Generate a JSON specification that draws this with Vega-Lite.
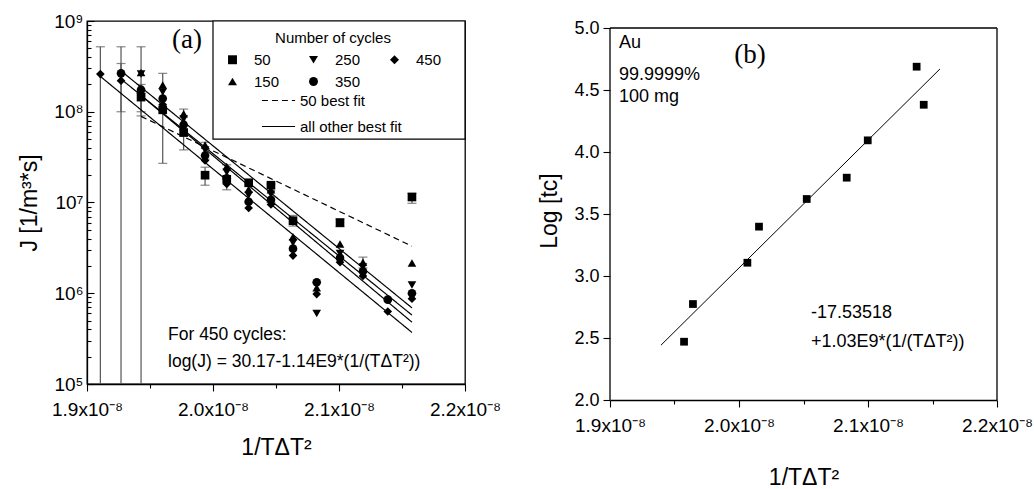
{
  "$schema": "https://vega.github.io/schema/vega-lite/v6.json",
  "background": "white",
  "padding": {"left": 18, "top": 11, "right": 0, "bottom": 0},
  "spacing": 36,
  "config": {
    "font": "Liberation Sans",
    "view": {"stroke": "black", "strokeWidth": 1.3},
    "axis": {
      "grid": false, "domainColor": "black", "domainWidth": 1.3, "tickColor": "black", "tickWidth": 1.1,
      "labelColor": "black", "titleColor": "black", "labelFont": "Liberation Sans", "titleFont": "Liberation Sans",
      "labelFontSize": 19, "titleFontSize": 23, "titleFontWeight": "normal", "labelFlush": false, "labelOverlap": false
    }
  },
  "datasets": {
    "pa": [
      {"x": 1.9106e-8, "J": 2.6e8, "n": "450"},
      {"x": 1.9270e-8, "J": 2.65e8, "n": "350"}, {"x": 1.9270e-8, "J": 2.2e8, "n": "450"},
      {"x": 1.9429e-8, "J": 2.7e8, "n": "150"}, {"x": 1.9429e-8, "J": 2.6e8, "n": "250"}, {"x": 1.9429e-8, "J": 1.75e8, "n": "350"}, {"x": 1.9429e-8, "J": 1.5e8, "n": "450"}, {"x": 1.9429e-8, "J": 1.45e8, "n": "50"},
      {"x": 1.9601e-8, "J": 1.97e8, "n": "150"}, {"x": 1.9601e-8, "J": 1.65e8, "n": "250"}, {"x": 1.9601e-8, "J": 1.4e8, "n": "350"}, {"x": 1.9601e-8, "J": 1.2e8, "n": "450"}, {"x": 1.9601e-8, "J": 1.05e8, "n": "50"},
      {"x": 1.9767e-8, "J": 9.5e7, "n": "150"}, {"x": 1.9767e-8, "J": 8.3e7, "n": "250"}, {"x": 1.9767e-8, "J": 7.2e7, "n": "350"}, {"x": 1.9767e-8, "J": 6.3e7, "n": "450"}, {"x": 1.9767e-8, "J": 5.9e7, "n": "50"},
      {"x": 1.9937e-8, "J": 4.3e7, "n": "150"}, {"x": 1.9937e-8, "J": 3.8e7, "n": "250"}, {"x": 1.9937e-8, "J": 3.3e7, "n": "350"}, {"x": 1.9937e-8, "J": 2.9e7, "n": "450"}, {"x": 1.9937e-8, "J": 2.0e7, "n": "50"},
      {"x": 2.0109e-8, "J": 2.5e7, "n": "150"}, {"x": 2.0109e-8, "J": 2.15e7, "n": "250"}, {"x": 2.0109e-8, "J": 1.85e7, "n": "350"}, {"x": 2.0109e-8, "J": 1.6e7, "n": "450"}, {"x": 2.0109e-8, "J": 1.8e7, "n": "50"},
      {"x": 2.0283e-8, "J": 1.65e7, "n": "50"}, {"x": 2.0283e-8, "J": 1.4e7, "n": "150"}, {"x": 2.0283e-8, "J": 1.2e7, "n": "250"}, {"x": 2.0283e-8, "J": 1.02e7, "n": "350"}, {"x": 2.0283e-8, "J": 8.7e6, "n": "450"},
      {"x": 2.0460e-8, "J": 1.55e7, "n": "50"}, {"x": 2.0460e-8, "J": 1.38e7, "n": "150"}, {"x": 2.0460e-8, "J": 1.23e7, "n": "250"}, {"x": 2.0460e-8, "J": 1.07e7, "n": "350"}, {"x": 2.0460e-8, "J": 9.5e6, "n": "450"},
      {"x": 2.0635e-8, "J": 6.3e6, "n": "50"}, {"x": 2.0635e-8, "J": 4.2e6, "n": "150"}, {"x": 2.0635e-8, "J": 3.6e6, "n": "250"}, {"x": 2.0635e-8, "J": 3.1e6, "n": "350"}, {"x": 2.0635e-8, "J": 2.6e6, "n": "450"},
      {"x": 2.0823e-8, "J": 1.32e6, "n": "350"}, {"x": 2.0823e-8, "J": 1.15e6, "n": "150"}, {"x": 2.0823e-8, "J": 9.8e5, "n": "450"}, {"x": 2.0823e-8, "J": 6.0e5, "n": "250"},
      {"x": 2.1008e-8, "J": 6.0e6, "n": "50"}, {"x": 2.1008e-8, "J": 3.5e6, "n": "150"}, {"x": 2.1008e-8, "J": 2.75e6, "n": "250"}, {"x": 2.1008e-8, "J": 2.45e6, "n": "350"}, {"x": 2.1008e-8, "J": 2.2e6, "n": "450"},
      {"x": 2.1190e-8, "J": 2.2e6, "n": "150"}, {"x": 2.1190e-8, "J": 1.95e6, "n": "250"}, {"x": 2.1190e-8, "J": 1.75e6, "n": "350"}, {"x": 2.1190e-8, "J": 1.55e6, "n": "450"},
      {"x": 2.1387e-8, "J": 8.5e5, "n": "350"}, {"x": 2.1387e-8, "J": 6.3e5, "n": "450"},
      {"x": 2.1579e-8, "J": 1.15e7, "n": "50"}, {"x": 2.1579e-8, "J": 2.15e6, "n": "150"}, {"x": 2.1579e-8, "J": 1.23e6, "n": "250"}, {"x": 2.1579e-8, "J": 1.0e6, "n": "350"}, {"x": 2.1579e-8, "J": 8.7e5, "n": "450"}
    ],
    "ea": [
      {"x": 1.9106e-8, "lo": 1e5, "hi": 5.2e8},
      {"x": 1.9270e-8, "lo": 1e5, "hi": 5.2e8},
      {"x": 1.9270e-8, "lo": 1.0e8, "hi": 3.4e8},
      {"x": 1.9429e-8, "lo": 1e5, "hi": 5.2e8},
      {"x": 1.9429e-8, "lo": 1.0e8, "hi": 2.0e8},
      {"x": 1.9429e-8, "lo": 9.0e7, "hi": 1.6e8},
      {"x": 1.9601e-8, "lo": 2.7e7, "hi": 2.65e8},
      {"x": 1.9767e-8, "lo": 3.8e7, "hi": 1.07e8},
      {"x": 1.9937e-8, "lo": 3.0e7, "hi": 4.6e7},
      {"x": 1.9937e-8, "lo": 1.55e7, "hi": 2.45e7},
      {"x": 2.0109e-8, "lo": 1.38e7, "hi": 2.6e7},
      {"x": 2.0460e-8, "lo": 1.0e7, "hi": 1.6e7},
      {"x": 2.0635e-8, "lo": 5.5e6, "hi": 7.2e6},
      {"x": 2.1008e-8, "lo": 5.4e6, "hi": 6.6e6},
      {"x": 2.1190e-8, "lo": 1.9e6, "hi": 2.5e6},
      {"x": 2.1579e-8, "lo": 9.8e6, "hi": 1.26e7}
    ],
    "fa": [
      {"x": 1.9429e-8, "J": 8.9e7, "id": "f50", "fit": "50 best fit"},
      {"x": 2.1579e-8, "J": 3.3e6, "id": "f50", "fit": "50 best fit"},
      {"x": 1.9270e-8, "J": 2.82e8, "id": "f150", "fit": "all other best fit"},
      {"x": 2.1579e-8, "J": 6.9e5, "id": "f150", "fit": "all other best fit"},
      {"x": 1.9270e-8, "J": 2.29e8, "id": "f250", "fit": "all other best fit"},
      {"x": 2.1579e-8, "J": 5.75e5, "id": "f250", "fit": "all other best fit"},
      {"x": 1.9429e-8, "J": 1.51e8, "id": "f350", "fit": "all other best fit"},
      {"x": 2.1579e-8, "J": 4.8e5, "id": "f350", "fit": "all other best fit"},
      {"x": 1.9106e-8, "J": 2.45e8, "id": "f450", "fit": "all other best fit"},
      {"x": 2.1579e-8, "J": 3.7e5, "id": "f450", "fit": "all other best fit"}
    ],
    "pb": [
      {"x": 1.9574e-8, "t": 2.47}, {"x": 1.9643e-8, "t": 2.774}, {"x": 2.0065e-8, "t": 3.107},
      {"x": 2.0155e-8, "t": 3.398}, {"x": 2.0525e-8, "t": 3.621}, {"x": 2.0835e-8, "t": 3.793},
      {"x": 2.0998e-8, "t": 4.094}, {"x": 2.1377e-8, "t": 4.688}, {"x": 2.1432e-8, "t": 4.381}
    ],
    "fb": [
      {"x": 1.9395e-8, "t": 2.442}, {"x": 2.1558e-8, "t": 4.670}
    ],
    "one": [{}]
  },
  "hconcat": [
    {
      "width": 378,
      "height": 363,
      "layer": [
        {
          "data": {"name": "ea"},
          "mark": {"type": "rule", "color": "#555", "strokeWidth": 1.2},
          "encoding": {
            "x": {"field": "x", "type": "quantitative", "scale": {"domain": [1.9e-8, 2.2e-8], "nice": false, "zero": false},
              "axis": {"values": [1.9e-8, 1.95e-8, 2.0e-8, 2.05e-8, 2.1e-8, 2.15e-8, 2.2e-8],
                "labelExpr": "abs(datum.value*1e9 - round(datum.value*1e9)) < 0.01 ? format(datum.value*1e8, '.1f') + 'x10⁻⁸' : ''",
                "tickSize": {"condition": {"test": "abs(datum.value*1e9 - round(datum.value*1e9)) < 0.01", "value": 7}, "value": 4},
                "labelPadding": 9, "title": "1/TΔT²", "titlePadding": 17}},
            "y": {"field": "lo", "type": "quantitative", "scale": {"type": "log", "domain": [1e5, 1e9], "nice": false},
              "axis": {"values": [1e5, 2e5, 3e5, 4e5, 5e5, 6e5, 7e5, 8e5, 9e5, 1e6, 2e6, 3e6, 4e6, 5e6, 6e6, 7e6, 8e6, 9e6, 1e7, 2e7, 3e7, 4e7, 5e7, 6e7, 7e7, 8e7, 9e7, 1e8, 2e8, 3e8, 4e8, 5e8, 6e8, 7e8, 8e8, 9e8, 1e9],
                "labelExpr": "datum.value == 1e5 ? '10⁵' : datum.value == 1e6 ? '10⁶' : datum.value == 1e7 ? '10⁷' : datum.value == 1e8 ? '10⁸' : datum.value == 1e9 ? '10⁹' : ''",
                "tickSize": {"condition": {"test": "indexof([100000, 1000000, 10000000, 100000000, 1000000000], datum.value) >= 0", "value": -7}, "value": -4},
                "labelPadding": 11, "title": "J [1/m³*s]", "titlePadding": 12}},
            "y2": {"field": "hi"}
          }
        },
        {
          "data": {"name": "ea"},
          "mark": {"type": "tick", "color": "#555", "orient": "horizontal", "size": 9, "thickness": 1.2},
          "encoding": {
            "x": {"field": "x", "type": "quantitative"},
            "y": {"field": "hi", "type": "quantitative"}
          }
        },
        {
          "data": {"name": "ea"},
          "transform": [{"filter": "datum.lo > 100000"}],
          "mark": {"type": "tick", "color": "#555", "orient": "horizontal", "size": 9, "thickness": 1.2},
          "encoding": {
            "x": {"field": "x", "type": "quantitative"},
            "y": {"field": "lo", "type": "quantitative"}
          }
        },
        {
          "data": {"name": "one"},
          "mark": {"type": "rect", "fill": "white", "stroke": "black", "strokeWidth": 1.2},
          "encoding": {
            "x": {"datum": 2.0e-8, "type": "quantitative"},
            "x2": {"datum": 2.2e-8},
            "y": {"datum": 5e7, "type": "quantitative"},
            "y2": {"datum": 1e9}
          }
        },
        {
          "data": {"name": "fa"},
          "mark": {"type": "line", "color": "black", "strokeWidth": 1.2},
          "encoding": {
            "x": {"field": "x", "type": "quantitative"},
            "y": {"field": "J", "type": "quantitative"},
            "detail": {"field": "id"},
            "strokeDash": {"field": "fit", "type": "nominal",
              "scale": {"domain": ["50 best fit", "all other best fit"], "range": [[6, 4], [1, 0]]},
              "legend": {"title": null, "orient": "none", "legendX": 174, "legendY": 62, "symbolType": "stroke", "symbolSize": 1100,
                "symbolStrokeColor": "black", "symbolStrokeWidth": 1.2, "labelFontSize": 15, "labelColor": "black", "rowPadding": 0, "labelOffset": 4, "padding": 0}}
          }
        },
        {
          "data": {"name": "pa"},
          "mark": {"type": "point", "filled": true, "color": "black", "opacity": 1, "size": 75},
          "encoding": {
            "x": {"field": "x", "type": "quantitative"},
            "y": {"field": "J", "type": "quantitative"},
            "shape": {"field": "n", "type": "nominal",
              "scale": {"domain": ["50", "150", "250", "350", "450"], "range": ["square", "triangle-up", "triangle-down", "circle", "diamond"]},
              "legend": {"title": "Number of cycles", "orient": "none", "legendX": 138, "legendY": 10, "columns": 3, "gridAlign": "all",
                "titleAnchor": "middle", "titleFontSize": 15, "titleFontWeight": "normal", "titleColor": "black", "titlePadding": 6,
                "labelFontSize": 15, "labelColor": "black", "labelOffset": 14, "symbolSize": 80, "symbolFillColor": "black", "symbolStrokeWidth": 0,
                "columnPadding": 26, "rowPadding": 6, "padding": 0}}
          }
        },
        {
          "data": {"name": "one"},
          "mark": {"type": "text", "font": "Liberation Serif", "fontSize": 27, "align": "center", "baseline": "middle", "color": "black"},
          "encoding": {"x": {"datum": 1.9794e-8, "type": "quantitative"}, "y": {"datum": 6.2e8, "type": "quantitative"}, "text": {"value": "(a)"}}
        },
        {
          "data": {"name": "one"},
          "mark": {"type": "text", "fontSize": 17.5, "align": "left", "baseline": "middle", "color": "black"},
          "encoding": {"x": {"datum": 1.9643e-8, "type": "quantitative"}, "y": {"datum": 3.47e5, "type": "quantitative"}, "text": {"value": "For 450 cycles:"}}
        },
        {
          "data": {"name": "one"},
          "mark": {"type": "text", "fontSize": 17.5, "align": "left", "baseline": "middle", "color": "black"},
          "encoding": {"x": {"datum": 1.9643e-8, "type": "quantitative"}, "y": {"datum": 1.75e5, "type": "quantitative"}, "text": {"value": "log(J) = 30.17-1.14E9*(1/(TΔT²))"}}
        }
      ]
    },
    {
      "width": 387,
      "height": 379,
      "view": {"stroke": null},
      "layer": [
        {
          "data": {"name": "fb"},
          "mark": {"type": "line", "color": "black", "strokeWidth": 1},
          "encoding": {
            "x": {"field": "x", "type": "quantitative", "scale": {"domain": [1.9e-8, 2.2e-8], "nice": false, "zero": false},
              "axis": {"values": [1.9e-8, 1.95e-8, 2.0e-8, 2.05e-8, 2.1e-8, 2.15e-8, 2.2e-8],
                "labelExpr": "abs(datum.value*1e9 - round(datum.value*1e9)) < 0.01 ? format(datum.value*1e8, '.1f') + 'x10⁻⁸' : ''",
                "tickSize": {"condition": {"test": "abs(datum.value*1e9 - round(datum.value*1e9)) < 0.01", "value": 7}, "value": 4},
                "labelPadding": 9, "title": "1/TΔT²", "titlePadding": 31}},
            "y": {"field": "t", "type": "quantitative", "scale": {"domain": [2, 5.0565], "nice": false, "zero": false},
              "axis": {"values": [2, 2.25, 2.5, 2.75, 3, 3.25, 3.5, 3.75, 4, 4.25, 4.5, 4.75, 5], "domain": false,
                "labelExpr": "abs(datum.value*2 - round(datum.value*2)) < 0.01 ? format(datum.value, '.1f') : ''",
                "tickSize": {"condition": {"test": "abs(datum.value*2 - round(datum.value*2)) < 0.01", "value": 7}, "value": 4},
                "labelPadding": 4, "labelFontSize": 18, "title": "Log [tc]", "titlePadding": 12}}
          }
        },
        {
          "data": {"name": "one"},
          "mark": {"type": "rule", "color": "black", "strokeWidth": 1.3},
          "encoding": {"x": {"datum": 1.9e-8, "type": "quantitative"}, "x2": {"datum": 2.2e-8}, "y": {"datum": 5, "type": "quantitative"}}
        },
        {
          "data": {"name": "one"},
          "mark": {"type": "rule", "color": "black", "strokeWidth": 1.3},
          "encoding": {"x": {"datum": 1.9e-8, "type": "quantitative"}, "y": {"datum": 2, "type": "quantitative"}, "y2": {"datum": 5}}
        },
        {
          "data": {"name": "one"},
          "mark": {"type": "rule", "color": "black", "strokeWidth": 1.3},
          "encoding": {"x": {"datum": 2.2e-8, "type": "quantitative"}, "y": {"datum": 2, "type": "quantitative"}, "y2": {"datum": 5}}
        },
        {
          "data": {"name": "pb"},
          "mark": {"type": "point", "shape": "square", "filled": true, "color": "black", "opacity": 1, "size": 60},
          "encoding": {
            "x": {"field": "x", "type": "quantitative"},
            "y": {"field": "t", "type": "quantitative"}
          }
        },
        {
          "data": {"name": "one"},
          "mark": {"type": "text", "font": "Liberation Serif", "fontSize": 27, "align": "center", "baseline": "middle", "color": "black"},
          "encoding": {"x": {"datum": 2.0085e-8, "type": "quantitative"}, "y": {"datum": 4.78, "type": "quantitative"}, "text": {"value": "(b)"}}
        },
        {
          "data": {"name": "one"},
          "mark": {"type": "text", "fontSize": 18, "align": "left", "baseline": "middle", "color": "black"},
          "encoding": {"x": {"datum": 1.907e-8, "type": "quantitative"}, "y": {"datum": 4.879, "type": "quantitative"}, "text": {"value": "Au"}}
        },
        {
          "data": {"name": "one"},
          "mark": {"type": "text", "fontSize": 18, "align": "left", "baseline": "middle", "color": "black"},
          "encoding": {"x": {"datum": 1.907e-8, "type": "quantitative"}, "y": {"datum": 4.621, "type": "quantitative"}, "text": {"value": "99.9999%"}}
        },
        {
          "data": {"name": "one"},
          "mark": {"type": "text", "fontSize": 18, "align": "left", "baseline": "middle", "color": "black"},
          "encoding": {"x": {"datum": 1.907e-8, "type": "quantitative"}, "y": {"datum": 4.444, "type": "quantitative"}, "text": {"value": "100 mg"}}
        },
        {
          "data": {"name": "one"},
          "mark": {"type": "text", "fontSize": 18, "align": "left", "baseline": "middle", "color": "black"},
          "encoding": {"x": {"datum": 2.0558e-8, "type": "quantitative"}, "y": {"datum": 2.70, "type": "quantitative"}, "text": {"value": "-17.53518"}}
        },
        {
          "data": {"name": "one"},
          "mark": {"type": "text", "fontSize": 18, "align": "left", "baseline": "middle", "color": "black"},
          "encoding": {"x": {"datum": 2.0558e-8, "type": "quantitative"}, "y": {"datum": 2.47, "type": "quantitative"}, "text": {"value": "+1.03E9*(1/(TΔT²))"}}
        }
      ]
    }
  ],
  "resolve": {"scale": {"x": "independent", "y": "independent", "shape": "independent", "strokeDash": "independent"}}
}
